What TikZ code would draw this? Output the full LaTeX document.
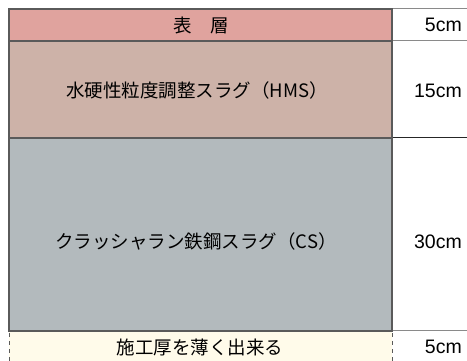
\documentclass[tikz,border=0pt]{standalone}
\usepackage{fontspec}
\setmainfont{Noto Sans CJK JP}
\newfontfamily\latinfont{Liberation Sans}
\definecolor{topc}{HTML}{E0A39E}
\definecolor{hmsc}{HTML}{CDB2A8}
\definecolor{csc}{HTML}{B3BABD}
\definecolor{basec}{HTML}{FFFBEA}
\definecolor{edgec}{HTML}{5A5A5A}
\definecolor{linec}{HTML}{8A8A8A}
\begin{document}
\begin{tikzpicture}[x=1pt,y=-1pt,
  layer/.style={draw=edgec,line width=2.5pt},
  lbl/.style={font=\fontsize{18.5}{20}\selectfont,anchor=center,inner sep=0pt},
  dim/.style={font=\latinfont\fontsize{19.5}{22}\selectfont,anchor=east,inner sep=0pt},
  rule/.style={draw=linec,line width=1pt}]
\useasboundingbox (0,0) rectangle (467,361);
% bottom dashed region
\fill[basec] (9,331) rectangle (392,361);
\draw[edgec,line width=1pt,dash pattern=on 4pt off 4pt] (9,333) -- (9,361);
\draw[edgec,line width=1pt,dash pattern=on 4pt off 4pt] (392,333) -- (392,361);
% right column rules
\coordinate (r0) at (467,9);
\coordinate (r1) at (467,41);
\coordinate (r2) at (467,138);
\coordinate (r3) at (467,331);
\draw[rule] (392,9) -- (r0);
\draw[rule] (392,41) -- (r1);
\draw[draw=black!85,line width=1pt] (392,138) -- (r2);
\draw[rule] (392,331) -- (r3);
% layers
\draw[layer,fill=csc] (9,138) rectangle (392,331);
\draw[layer,fill=hmsc] (9,41) rectangle (392,138);
\draw[layer,fill=topc] (9,9) rectangle (392,41);
% labels
\node[lbl] (t1) at (201,25) {表　層};
\node[lbl] (t2) at (197,90) {水硬性粒度調整スラグ（HMS）};
\node[lbl] (t3) at (196,241) {クラッシャラン鉄鋼スラグ（CS）};
\node[lbl] (t4) at (200,347) {施工厚を薄く出来る};
\node[dim] (d1) at (462,25) {5cm};
\node[dim] (d2) at (462,91) {15cm};
\node[dim] (d3) at (462,242) {30cm};
\node[dim] (d4) at (462,347) {5cm};
\end{tikzpicture}
\end{document}
